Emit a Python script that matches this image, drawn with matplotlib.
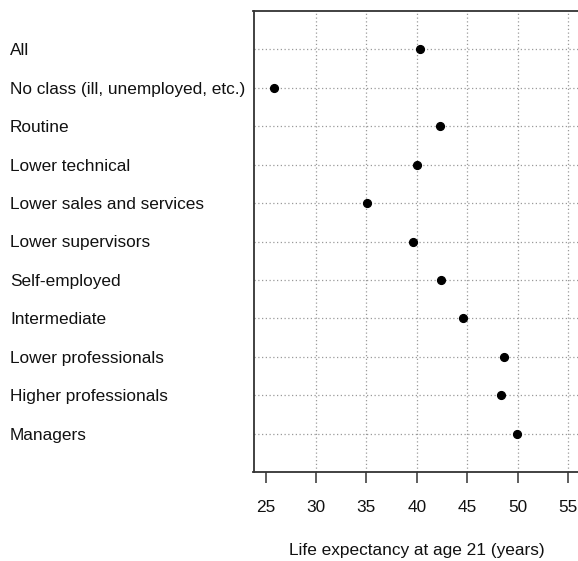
import matplotlib
matplotlib.use("Agg")
import matplotlib.pyplot as plt

plt.rcParams['font.family'] = ['Liberation Sans', 'DejaVu Sans']

categories = [
    "All",
    "No class (ill, unemployed, etc.)",
    "Routine",
    "Lower technical",
    "Lower sales and services",
    "Lower supervisors",
    "Self-employed",
    "Intermediate",
    "Lower professionals",
    "Higher professionals",
    "Managers",
]
life_expectancy = [40.35, 25.8, 42.3, 40.0, 35.1, 39.6, 42.4, 44.6, 48.65, 48.35, 49.9]
x_ticks = [25, 30, 35, 40, 45, 50, 55]
grid_x = [30, 35, 40, 45, 50, 55]
x_label = "Life expectancy at age 21 (years)"

W, H = 578, 561
fig = plt.figure(figsize=(W / 100, H / 100), dpi=100)
left, right, top, bottom = 253.5, 580, 11, 472
ax = fig.add_axes([left / W, 1 - bottom / H, (right - left) / W, (bottom - top) / H])

n = len(categories)
ypos = list(range(1, n + 1))

grid_kw = dict(color="#9a9a9a", lw=0.9, linestyle=(0, (1, 2)), zorder=1)
for y in ypos:
    ax.axhline(y, **grid_kw)
for x in grid_x:
    ax.axvline(x, **grid_kw)

ax.plot(life_expectancy, ypos, "o", color="black", markersize=5.6, zorder=3, clip_on=False)

ax.set_xlim(23.8, 56.2)
ax.set_ylim(n + 1, 0)

fs = 12.4
ax.set_xticks(x_ticks)
ax.tick_params(axis="x", length=8, width=1.1, color="#333333", pad=12,
               labelsize=fs, labelcolor="#111111")
ax.set_yticks(ypos)
ax.set_yticklabels(categories)
ax.tick_params(axis="y", length=0, pad=(left - 10) * 0.72, labelsize=fs, labelcolor="#111111")
for lbl in ax.get_yticklabels():
    lbl.set_horizontalalignment("left")

ax.set_xlabel(x_label, fontsize=fs, color="#111111", labelpad=20)

for s in ["left", "top", "bottom"]:
    ax.spines[s].set_color("#333333")
    ax.spines[s].set_linewidth(1.3)
ax.spines["right"].set_visible(False)

fig.savefig("out.png", dpi=100)
